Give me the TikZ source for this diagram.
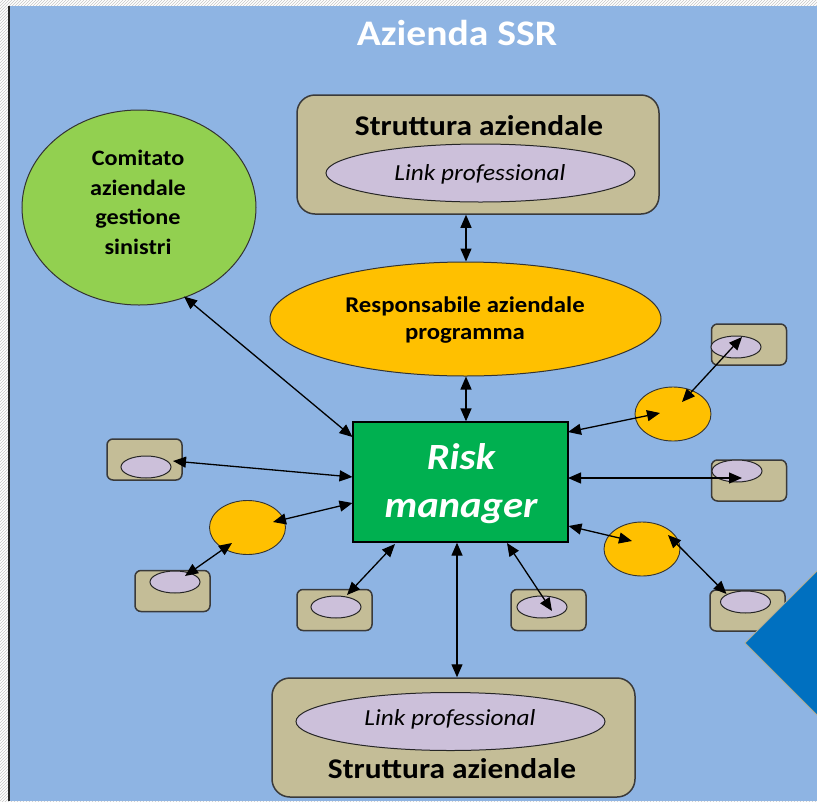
\documentclass[tikz,border=0pt]{standalone}
\usepackage{fontspec}
\setmainfont[FakeStretch=1.1]{Carlito}
\usetikzlibrary{shapes.geometric,arrows.meta,calc,patterns}
\definecolor{bgblue}{HTML}{8EB4E3}
\definecolor{tanc}{HTML}{C4BD97}
\definecolor{lavc}{HTML}{CCC0DA}
\definecolor{yelc}{HTML}{FFC000}
\definecolor{lgreen}{HTML}{92D050}
\definecolor{dgreen}{HTML}{00B050}
\definecolor{dblue}{HTML}{0070C0}
\definecolor{edgec}{HTML}{3A3A3A}
\begin{document}
\begin{tikzpicture}[x=1pt,y=-1pt,
  tanbox/.style={rectangle, rounded corners=#1, fill=tanc, draw=edgec, line width=1.5pt, inner sep=0pt},
  tanbox/.default=6pt,
  lav/.style={ellipse, fill=lavc, draw=black!85, line width=1pt, inner sep=0pt},
  yel/.style={ellipse, fill=yelc, draw=black!80, line width=0.9pt, inner sep=0pt, minimum width=76pt, minimum height=54pt},
  smallbox/.style={tanbox, minimum width=75pt, minimum height=41pt},
  smallell/.style={lav, minimum width=50pt, minimum height=22pt},
  arr/.style={{Triangle[length=13pt,width=11pt]}-{Triangle[length=13pt,width=11pt]}, line width=1.3pt, black},
  lbl/.style={inner sep=0pt, anchor=base, align=center}
]
\useasboundingbox (0,0) rectangle (817,801);
\fill[white] (0,0) rectangle (817,801);
\fill[pattern=north east lines, pattern color=black!22] (0,0) rectangle (817,801);
\fill[bgblue] (9,6) rectangle (817,801);
\draw[line width=2.5pt, black!85] (9,6) -- (9,801);

% title
\node[lbl, text=white, font=\fontsize{36}{40}\selectfont\bfseries] (title) at (457,45) {Azienda SSR};

% top structure box
\node[tanbox=18pt, minimum width=362pt, minimum height=119pt] (top) at (478,154.5) {};
\node[lbl, font=\fontsize{28.5}{30}\selectfont\bfseries] (toplbl) at (479,135) {Struttura aziendale};
\node[lav, minimum width=309pt, minimum height=58pt] (topell) at (480.5,173) {};
\node[lbl, font=\fontsize{23}{26}\selectfont\itshape] (toplink) at (480,180) {Link professional};

% comitato
\node[ellipse, fill=lgreen, draw=black!80, line width=1pt, minimum width=234pt, minimum height=195pt, inner sep=0pt] (com) at (139,207.5) {};
\node[lbl, font=\fontsize{22}{29.5}\selectfont\bfseries] (comlbl) at (138,254) {Comitato\\aziendale\\gestione\\sinistri};

% responsabile
\node[ellipse, fill=yelc, draw=black!80, line width=1pt, minimum width=391pt, minimum height=114pt, inner sep=0pt] (resp) at (465.5,319) {};
\node[lbl, font=\fontsize{22.5}{26.5}\selectfont\bfseries] (resplbl) at (465,339) {Responsabile aziendale\\programma};

% risk manager
\node[rectangle, fill=dgreen, draw=black, line width=1.3pt, minimum width=215pt, minimum height=120pt, inner sep=0pt] (rm) at (460.5,482) {};
\node[lbl, text=white, font=\fontsize{37}{48}\selectfont\bfseries\itshape] (rmlbl) at (461,517) {Risk\\manager};

% bottom structure box
\node[tanbox=18pt, minimum width=363pt, minimum height=119pt] (bot) at (453.5,737.5) {};
\node[lav, minimum width=309pt, minimum height=58pt] (botell) at (450.5,721.5) {};
\node[lbl, font=\fontsize{23}{26}\selectfont\itshape] (botlink) at (450,725) {Link professional};
\node[lbl, font=\fontsize{28.5}{30}\selectfont\bfseries] (botlbl) at (452,778) {Struttura aziendale};

% small boxes
\node[smallbox] (b1) at (144.5,459.5) {};
\node[smallell] (b1e) at (146,467) {};
\node[smallbox] (b5) at (172.5,591) {};
\node[smallell] (b5e) at (175,582) {};
\node[smallbox] (b6) at (334.5,610) {};
\node[smallell] (b6e) at (336,607) {};
\node[smallbox] (b7) at (548.5,610) {};
\node[smallell] (b7e) at (542,607) {};
\node[smallbox] (btr) at (749,344.5) {};
\node[smallell] (btre) at (736,347) {};
\node[smallbox] (brm) at (749,480.5) {};
\node[smallell] (brme) at (737,471) {};
\node[smallbox] (bbr) at (747.5,610.5) {};
\node[smallell] (bbre) at (745.5,602) {};

% yellow circles
\node[yel] (yl) at (247.5,527.5) {};
\node[yel] (yru) at (673,414) {};
\node[yel] (yrl) at (642,549) {};

% connectors
\draw[arr] ($(com)+(45,89)$) -- ($(rm)+(-108,-45)$);
\draw[arr] ([xshift=0.5pt]resp.north) -- ([xshift=0.5pt]resp.north |- top.south);
\draw[arr] ([xshift=0.5pt]resp.south) -- ([xshift=0.5pt]resp.south |- rm.north);
\draw[arr] ($(b1e)+(27,-6)$) -- ($(rm)+(-108,-5)$);
\draw[arr] ($(yl)+(25.5,-5.5)$) -- ($(rm)+(-108,21)$);
\draw[arr] ($(yl)+(-15.5,15.5)$) -- ($(b5e)+(10,-6)$);
\draw[arr] ($(b6e)+(11,-12)$) -- ($(rm)+(-65.5,62)$);
\draw[arr] ([xshift=3.5pt]bot.north) -- ([xshift=3.5pt]bot.north |- rm.south);
\draw[arr] ($(b7e)+(10,4)$) -- ($(rm)+(46.5,61)$);
\draw[arr] ($(rm)+(107.5,-50)$) -- ($(yru)+(-13,-1)$);
\draw[arr] ($(yru)+(9,-12)$) -- ($(btre)+(6,-10)$);
\draw[arr] ($(rm)+(107.5,-4)$) -- ($(brme)+(5,7)$);
\draw[arr] ($(rm)+(108,44)$) -- ($(yrl)+(-10,-8)$);
\draw[arr] ($(yrl)+(26,-14)$) -- ($(bbre)+(-19,-8)$);

% blue diamond (cut by the edge)
\begin{scope}
\clip (0,0) rectangle (817,801);
\draw[fill=dblue, draw=tanc!70!gray, line width=1pt] (745,643) -- (840,548) -- (935,643) -- (840,738) -- cycle;
\end{scope}
\end{tikzpicture}
\end{document}
